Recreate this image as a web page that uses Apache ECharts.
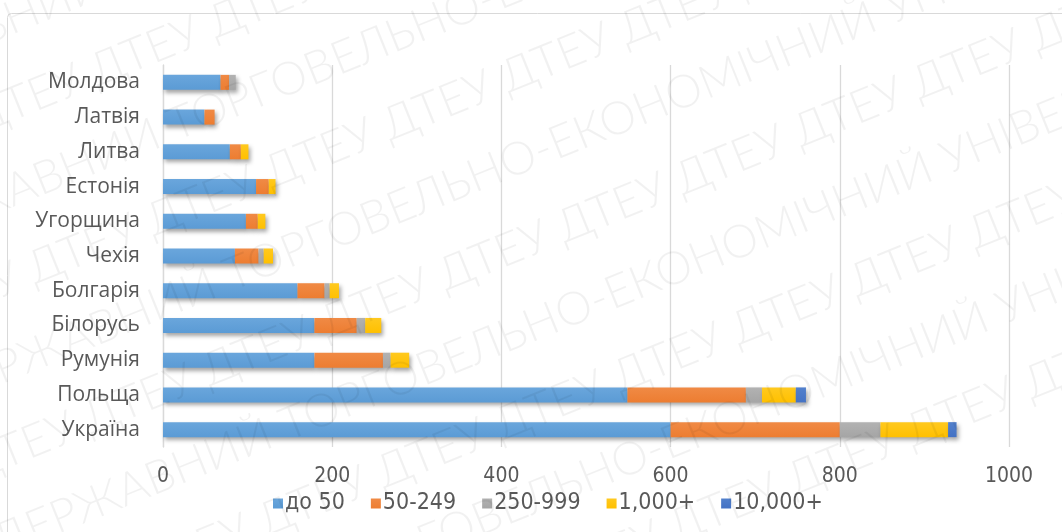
<!DOCTYPE html>
<html>
<head>
<meta charset="utf-8">
<script src="https://cdn.jsdelivr.net/npm/echarts@6/dist/echarts.min.js"></script>
<style>
html,body{margin:0;padding:0;background:#fff;}
#c{width:1062px;height:532px;}
</style>
</head>
<body>
<div id="c"></div>
<script>
// categories from bottom to top
const categories = ['Україна','Польща','Румунія','Білорусь','Болгарія','Чехія','Угорщина','Естонія','Литва','Латвія','Молдова'];
const seriesNames = ['до 50','50-249','250-999','1,000+','10,000+'];
const s_do50    = [600,549,179,179,159,85,98,110,79,49,68];
const s_50_249  = [200,140,81,50,32,28,14,15,13,12,10];
const s_250_999 = [48,19,9,10,6,6,0,0,0,0,8];
const s_1000    = [80,40,22,19,11,11,9,8,9,0,0];
const s_10000   = [10,12,0,0,0,0,0,0,0,0,0];
const xTicks = [0,200,400,600,800,1000];

const seriesData = [s_do50, s_50_249, s_250_999, s_1000, s_10000];
const colors = ['#5B9BD5','#ED7D31','#A5A5A5','#FFC000','#4472C4'];
const lighter = ['#6AA6DC','#F08A45','#B2B2B2','#FFC91F','#5280CC'];
const FONT = "'Liberation Sans Narrow','DejaVu Sans Condensed','Open Sans',sans-serif";

const chart = echarts.init(document.getElementById('c'), null, {renderer:'canvas'});

// watermark
const wmLines = [];
const phrase = 'ДТЕУ ДЕРЖАВНИЙ ТОРГОВЕЛЬНО-ЕКОНОМІЧНИЙ УНІВЕРСИТЕТ ДТЕУ ДЕРЖАВНИЙ ТОРГОВЕЛЬНО-ЕКОНОМІЧНИЙ УНІВЕРСИТЕТ';
const dteu = 'ДТЕУ ДТЕУ ДТЕУ ДТЕУ ДТЕУ ДТЕУ ДТЕУ ДТЕУ ДТЕУ ДТЕУ ДТЕУ ДТЕУ ДТЕУ ДТЕУ ДТЕУ';
for (let i = -6; i < 10; i++) {
  wmLines.push({
    type:'text', silent:true, z:100,
    x: -300 + i*28, y: 120 + i*75,
    rotation: 22*Math.PI/180,
    originX: 0, originY: 0,
    style:{ text: (i%2===0)? phrase : dteu, fill:'rgba(0,0,0,0.055)', font:"300 46px 'Lato','Open Sans',sans-serif" }
  });
}

const option = {
  animation:false,
  color: colors,
  grid:{left:163, right:53, top:65, bottom:85, containLabel:false},
  xAxis:{
    type:'value', min:0, max:1000, interval:200,
    axisLine:{show:false}, axisTick:{show:false},
    splitLine:{show:true, lineStyle:{color:'#D9D9D9', width:1.3}},
    axisLabel:{color:'#595959', fontSize:21, fontFamily:FONT, margin:19,
      formatter:function(v){return xTicks.indexOf(v)>=0? String(v):'';}}
  },
  yAxis:{
    type:'category', data:categories,
    axisLine:{show:true, lineStyle:{color:'#D9D9D9', width:1.3}},
    axisTick:{show:false},
    axisLabel:{color:'#595959', fontSize:21, fontFamily:"'Open Sans',sans-serif", margin:23}
  },
  legend:{
    bottom:12, left:268, itemWidth:10, itemHeight:10, itemGap:26,
    icon:'rect',
    textStyle:{color:'#595959', fontSize:23, fontFamily:FONT, padding:[0,0,0,-3]},
    data:seriesNames
  },
  series: seriesNames.map((n,i)=>({
    name:n, type:'bar', stack:'total', barWidth:15,
    data: seriesData[i],
    itemStyle:{
      color: new echarts.graphic.LinearGradient(0,0,0,1,[{offset:0,color:lighter[i]},{offset:1,color:colors[i]}]),
      shadowBlur:4, shadowOffsetX:2, shadowOffsetY:3, shadowColor:'rgba(0,0,0,0.35)'
    }
  })),
  graphic:[
    {type:'rect', silent:true, z:-10, shape:{x:7.5,y:13.5,width:1200,height:700,r:4},
     style:{fill:'none', stroke:'#D9D9D9', lineWidth:1}}
  ].concat(wmLines)
};
chart.setOption(option);
</script>
</body>
</html>
